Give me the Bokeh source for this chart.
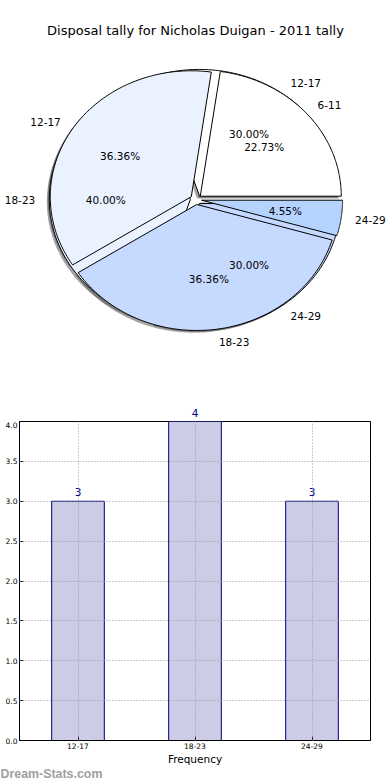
import numpy as np
from bokeh.plotting import figure
from bokeh.layouts import column
from bokeh.models import (Range1d, FactorRange, ColumnDataSource, LabelSet,
                          NumeralTickFormatter, FixedTicker)
from bokeh.embed import file_html
from bokeh.resources import INLINE
from bokeh.core.properties import value

# ---------------- data ----------------
title_text = "Disposal tally for Nicholas Duigan - 2011 tally"
pie_a_labels = ["12-17", "18-23", "24-29"]
pie_a_values = [3, 4, 3]
pie_b_labels = ["6-11", "12-17", "18-23", "24-29"]
pie_b_values = [5, 8, 8, 1]
pie_colors = ["#ffffff", "#ebf2ff", "#c6d9ff", "#b4d4ff"]
bar_categories = ["12-17", "18-23", "24-29"]
bar_values = [3, 4, 3]
y_max = 4.0
y_ticks = [0.0, 0.5, 1.0, 1.5, 2.0, 2.5, 3.0, 3.5, 4.0]
x_label = "Frequency"
watermark = "Dream-Stats.com"

FONT = value("DejaVu Sans")
W = 390

# ---------------- pie figure ----------------
H1 = 400
cx, cy = 195.5, 199   # pixel position of pie centre inside the figure
rx, ry = 141, 126     # pixel radii (non-equal aspect -> ellipse)
explode = 0.04

p1 = figure(width=W, height=H1,
            x_range=Range1d(-cx / rx, (W - cx) / rx),
            y_range=Range1d(-(H1 - cy) / ry, cy / ry),
            output_backend="svg", toolbar_location=None, tools="",
            min_border=0, x_axis_location=None, y_axis_location=None,
            outline_line_color=None)
p1.frame_align = False
p1.grid.visible = False


def pie_geometry(values):
    v = np.asarray(values, dtype=float)
    fr = v / v.sum()
    ends = np.cumsum(fr) * 360.0
    starts = ends - fr * 360.0
    mids = np.radians((starts + ends) / 2.0)
    return fr, starts, ends, mids


def wedge_polys(values, shift=(0.0, 0.0)):
    fr, starts, ends, mids = pie_geometry(values)
    xs, ys = [], []
    for s, e, m in zip(starts, ends, mids):
        ox = explode * np.cos(m) + shift[0]
        oy = explode * np.sin(m) + shift[1]
        t = np.radians(np.linspace(s, e, 150))
        xs.append(np.concatenate([[ox], ox + np.cos(t), [ox]]))
        ys.append(np.concatenate([[oy], oy + np.sin(t), [oy]]))
    return xs, ys


def pie_texts(values, labels):
    fr, starts, ends, mids = pie_geometry(values)
    out = {"left": dict(x=[], y=[], text=[]), "right": dict(x=[], y=[], text=[]),
           "pct": dict(x=[], y=[], text=[])}
    for f, m, lab in zip(fr, mids, labels):
        ox, oy = explode * np.cos(m), explode * np.sin(m)
        lx, ly = ox + 1.1 * np.cos(m), oy + 1.1 * np.sin(m)
        key = "left" if lx > 0 else "right"
        out[key]["x"].append(lx); out[key]["y"].append(ly); out[key]["text"].append(lab)
        out["pct"]["x"].append(ox + 0.6 * np.cos(m))
        out["pct"]["y"].append(oy + 0.6 * np.sin(m))
        out["pct"]["text"].append("%.2f%%" % (100 * f))
    return out


shadow_shift = (-0.018, -0.018)
for vals in (pie_a_values, pie_b_values):
    sx, sy = wedge_polys(vals, shadow_shift)
    p1.patches(sx, sy, fill_color="#4c4c4c", fill_alpha=0.5, line_color=None)
for vals in (pie_a_values, pie_b_values):
    wx, wy = wedge_polys(vals)
    p1.patches(wx, wy, fill_color=pie_colors[:len(vals)], line_color="black", line_width=1)
for vals, labs in ((pie_a_values, pie_a_labels), (pie_b_values, pie_b_labels)):
    t = pie_texts(vals, labs)
    for key, align in (("left", "left"), ("right", "right"), ("pct", "center")):
        if t[key]["x"]:
            p1.text(x=t[key]["x"], y=t[key]["y"], text=t[key]["text"],
                    text_font=FONT, text_font_size="10.5px", text_align=align,
                    text_baseline="middle", text_color="black")

p1.text(x=[(W / 2 - cx) / rx], y=[(cy - 30) / ry], text=[title_text],
        text_font=FONT, text_font_size="13px", text_align="center",
        text_baseline="middle", text_color="black")

# ---------------- bar chart ----------------
FW, FH = 351, 319          # frame size
BL, BR = 19, 20            # left / right borders
HEAD = 21                  # strip above the frame for labels of the tallest bars
px_per_unit = FH / y_max
x_rng = FactorRange(factors=bar_categories)

above = [i for i, v in enumerate(bar_values) if v >= y_max]
inside = [i for i, v in enumerate(bar_values) if v < y_max]

# header strip: continues the bar chart's y scale above y_max
ph = figure(x_range=x_rng, y_range=Range1d(y_max, y_max + HEAD / px_per_unit),
            width=W, height=HEAD, min_border_left=BL, min_border_right=BR,
            min_border_top=0, min_border_bottom=0,
            x_axis_location=None, y_axis_location=None, outline_line_color=None,
            output_backend="svg", toolbar_location=None, tools="")
ph.frame_align = False
ph.grid.visible = False
ph.text(x=[bar_categories[i] for i in above],
        y=[bar_values[i] + 9 / px_per_unit for i in above],
        text=[str(bar_values[i]) for i in above],
        text_align="center", text_baseline="middle",
        text_font=FONT, text_font_size="10.5px", text_color="#00008b")

p2 = figure(x_range=x_rng, y_range=Range1d(0, y_max),
            width=W, frame_width=FW, frame_height=FH,
            min_border_left=BL, min_border_right=BR, min_border_top=0, min_border_bottom=28,
            output_backend="svg", toolbar_location=None, tools="")
p2.frame_align = False

src = ColumnDataSource(dict(cat=bar_categories, val=bar_values))
p2.vbar(x="cat", top="val", width=0.45, source=src, fill_color="#cccce6",
        line_color="#000080", line_width=1)

src_in = ColumnDataSource(dict(cat=[bar_categories[i] for i in inside],
                               val=[bar_values[i] for i in inside],
                               txt=[str(bar_values[i]) for i in inside]))
p2.add_layout(LabelSet(x="cat", y="val", text="txt", source=src_in, y_offset=5,
                       text_align="center", text_baseline="alphabetic",
                       text_font=FONT, text_font_size="10.5px", text_color="#00008b"))

yt = FixedTicker(ticks=y_ticks)
p2.yaxis.ticker = yt
p2.ygrid.ticker = yt
p2.yaxis.formatter = NumeralTickFormatter(format="0.0")
for ax in (p2.xaxis[0], p2.yaxis[0]):
    ax.major_label_text_font = "DejaVu Sans"
    ax.major_label_text_font_size = "7.5px"
    ax.major_label_text_color = "black"
    ax.major_tick_in = 4
    ax.major_tick_out = 0
    ax.minor_tick_in = 0
    ax.minor_tick_out = 0
    ax.axis_line_color = "black"
p2.yaxis.major_label_standoff = 2
p2.xaxis.major_label_standoff = 2
p2.xaxis.axis_label = x_label
p2.xaxis.axis_label_text_font = "DejaVu Sans"
p2.xaxis.axis_label_text_font_size = "10.5px"
p2.xaxis.axis_label_text_font_style = "normal"
p2.xaxis.axis_label_text_color = "black"
p2.xaxis.axis_label_standoff = 1

p2.outline_line_color = "black"
p2.outline_line_width = 1
p2.outline_line_alpha = 1
p2.grid.grid_line_color = "#999999"
p2.grid.grid_line_dash = "1 2"
p2.grid.level = "overlay"

# ---------------- watermark strip ----------------
H3 = 12
pw = figure(width=W, height=H3, x_range=Range1d(0, W), y_range=Range1d(0, H3),
            min_border=0, x_axis_location=None, y_axis_location=None,
            outline_line_color=None, output_backend="svg",
            toolbar_location=None, tools="")
pw.frame_align = False
pw.grid.visible = False
pw.text(x=[0], y=[H3 - 5.5], text=[watermark], text_align="left",
        text_baseline="middle", text_font=value("Liberation Sans"),
        text_font_size="12.4px", text_font_style="bold", text_color="#a0a0a0")

layout = column(p1, ph, p2, pw, spacing=0)
open("out.html", "w").write(file_html(layout, INLINE))
